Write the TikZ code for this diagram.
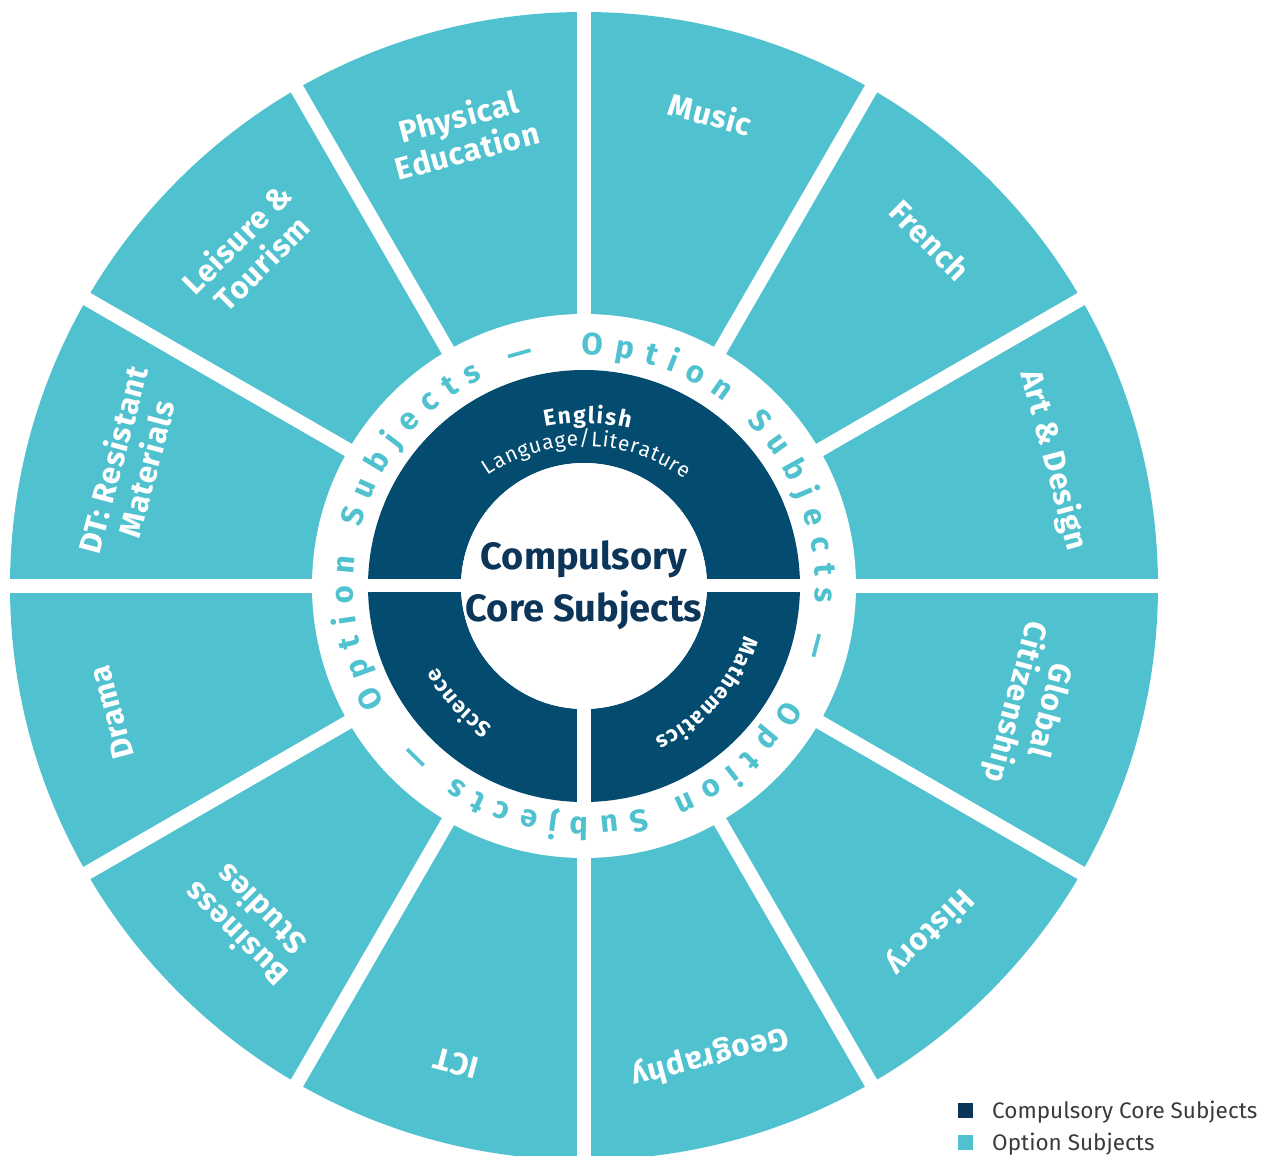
\documentclass[tikz,border=0pt]{standalone}
\usepackage{fontspec}
\setmainfont{Fira Sans}
\newfontfamily\labelfont[LetterSpace=3]{Fira Sans}
\usetikzlibrary{decorations.text}

\definecolor{optteal}{HTML}{50C1CF}
\definecolor{corenavy}{HTML}{034B6F}
\definecolor{titlenavy}{HTML}{0B3559}
\definecolor{keygray}{HTML}{3A3A3A}

\tikzset{
  gap/.style={white, line width=14pt},
  subject/.style={text=white, align=center, inner sep=0pt,
    font=\labelfont\bfseries\fontsize{31}{35}\selectfont},
  along/.style 2 args={decorate, decoration={text along path,
    text align={fit to path}, text color=#1, text={#2}}},
  title/.style={anchor=base, inner sep=0pt, text=titlenavy,
    font=\bfseries\fontsize{38}{38}\selectfont},
  keybox/.style={minimum size=15pt, inner sep=0pt},
  keytext/.style={anchor=base west, inner sep=0pt, text=keygray,
    font=\fontsize{22.5}{22.5}\selectfont},
}

\begin{document}
\begin{tikzpicture}[x=1pt, y=1pt]
  \useasboundingbox (-584,-570) rectangle (691,586);
  % option subjects
  \fill[optteal] (0,0) circle[radius=574];
  \foreach \a in {0,30,...,330}
    \draw[gap] (0,0) -- (\a:600);
  \fill[white] (0,0) circle[radius=272];
  % core subjects
  \fill[corenavy, even odd rule] (0,0) circle[radius=216] (0,0) circle[radius=123];
  \draw[gap, line width=13pt] (-230,0) -- (230,0);
  \draw[gap] (0,0) -- (0,-230);
  \fill[white] (0,0) circle[radius=123];

  \foreach \a/\r/\t [count=\n] in {15/486/Art \& Design, 45/489/French, 75/489/Music,
      105/469/{Physical\\Education}, 135/474/{Leisure \&\\Tourism},
      165/471/{DT: Resistant\\Materials}, 195/489/Drama, 225/476/{Business\\Studies},
      255/494/ICT, 285/487/Geography, 315/489/History, 345/463/{Global\\Citizenship}}
    \node[subject, rotate=\a-90] (opt\n) at (\a:\r) {\t};

  \foreach \s in {90.5,-29.5,-149.5}
    \path[along={optteal}{|\bfseries\fontsize{31}{31}\selectfont|Option Subjects —}]
      (\s:231) arc[start angle=\s, end angle=\s-108, radius=231];

  \path[shift={(0,-30)}, along={white}{|\bfseries\fontsize{23}{23}\selectfont|English}]
    (101.7:193) arc[start angle=101.7, end angle=76.2, radius=193];
  \path[shift={(0,-30)}, along={white}{|\fontsize{21}{21}\selectfont|Language/Literature}]
    (124.4:170) arc[start angle=124.4, end angle=53.6, radius=170];
  \path[along={white}{|\bfseries\fontsize{22}{22}\selectfont|Mathematics}]
    (-17:168) arc[start angle=-17, end angle=-65, radius=168];
  \path[along={white}{|\bfseries\fontsize{22}{22}\selectfont|Science}]
    (-123:168) arc[start angle=-123, end angle=-151, radius=168];

  \node[title] (core1) at (0,16) {Compulsory};
  \node[title] (core2) at (0,-36) {Core Subjects};

  % key
  \node[keybox, fill=titlenavy] (keycore) at (381.5,-524.5) {};
  \node[keytext] (keycoretext) at (408,-532) {Compulsory Core Subjects};
  \node[keybox, fill=optteal] (keyopt) at (381.5,-556.5) {};
  \node[keytext] (keyopttext) at (408,-564) {Option Subjects};
\end{tikzpicture}
\end{document}
